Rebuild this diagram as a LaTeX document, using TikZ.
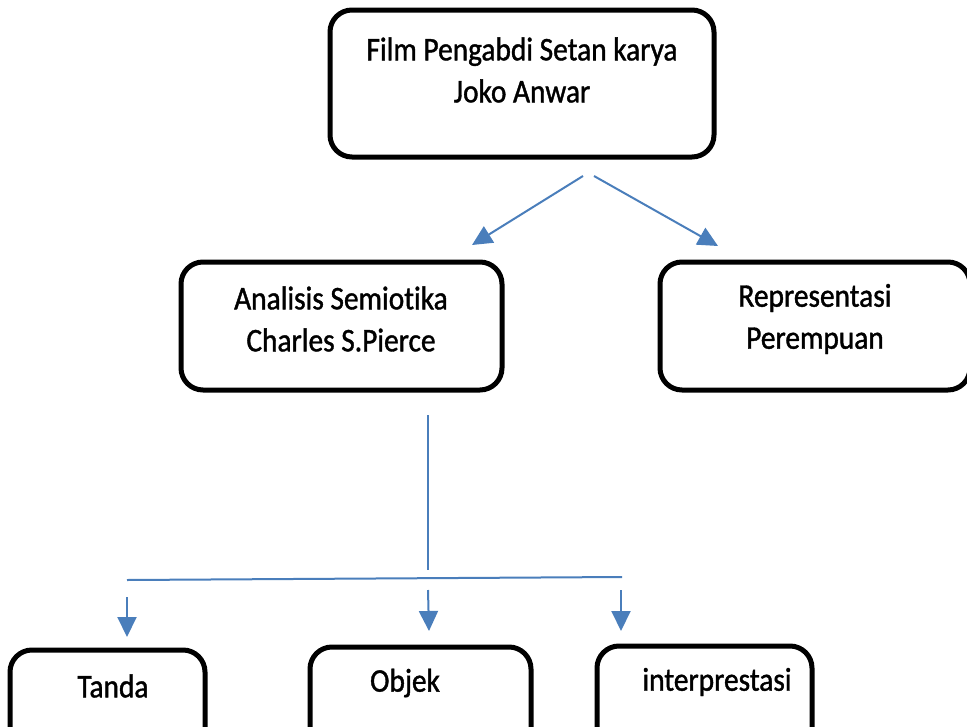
\documentclass[tikz,border=0pt]{standalone}
\usepackage{fontspec}
\setmainfont{Carlito}[Ligatures=NoCommon, FakeBold=1.2, FakeStretch=0.89, AutoFakeBold=false]
\usetikzlibrary{arrows.meta}

\tikzset{
  box/.style={draw, line width=5pt, rounded corners=22pt, inner sep=0pt},
  txt/.style={align=center, font=\fontsize{33}{42}\selectfont},
  link/.style={draw=linkblue, line width=2pt},
  arrow/.style={link, -{Triangle[length=20pt,width=19pt]}}
}
\definecolor{linkblue}{HTML}{4A7EBB}

\begin{document}
\begin{tikzpicture}[x=1pt, y=-1pt]
    \useasboundingbox (0,0) rectangle (967,726);

    % boxes
    \node[box, minimum width=384pt, minimum height=147pt] (film) at (522, 83.5) {};
    \node[box, minimum width=321pt, minimum height=128pt] (semio) at (341.5, 326) {};
    \node[box, minimum width=310pt, minimum height=128pt] (repr) at (815, 326) {};
    \node[box, minimum width=195pt, minimum height=130pt] (tanda) at (107.5, 715) {};
    \node[box, minimum width=221pt, minimum height=130pt] (objek) at (420.5, 712) {};
    \node[box, minimum width=215pt, minimum height=130pt] (interp) at (704.5, 711) {};

    % texts
    \node[txt] (filmtxt) at (522, 70) {Film Pengabdi Setan karya\\Joko Anwar};
    \node[txt] (semiotxt) at (341, 319) {Analisis Semiotika\\Charles S.Pierce};
    \node[txt] (reprtxt) at (815, 319) {Representasi\\Perempuan};
    \node[txt] (tandatxt) at (113, 686) {Tanda};
    \node[txt] (objektxt) at (405, 683) {Objek};
    \node[txt] (interptxt) at (717, 682) {interprestasi};

    % free ends of the connectors
    \coordinate (splitL) at (583, 176);
    \coordinate (splitR) at (594, 176);
    \coordinate (tipL) at (472, 245);
    \coordinate (tipR) at (718, 246);
    \coordinate (stemtop) at (428, 415);
    \coordinate (stembot) at (428, 570);
    \coordinate (barL) at (127, 580);
    \coordinate (barR) at (622, 577);
    \coordinate (downA) at (127, 597);
    \coordinate (downAtip) at (127, 637);
    \coordinate (downB) at (428, 590);
    \coordinate (downBtip) at (429, 631);
    \coordinate (downC) at (621, 590);
    \coordinate (downCtip) at (621, 631);

    \draw[arrow] (splitL) -- (tipL);
    \draw[arrow] (splitR) -- (tipR);
    \draw[link] (stemtop) -- (stembot);
    \draw[link] (barL) -- (barR);
    \draw[arrow] (downA) -- (downAtip);
    \draw[arrow] (downB) -- (downBtip);
    \draw[arrow] (downC) -- (downCtip);
\end{tikzpicture}
\end{document}
